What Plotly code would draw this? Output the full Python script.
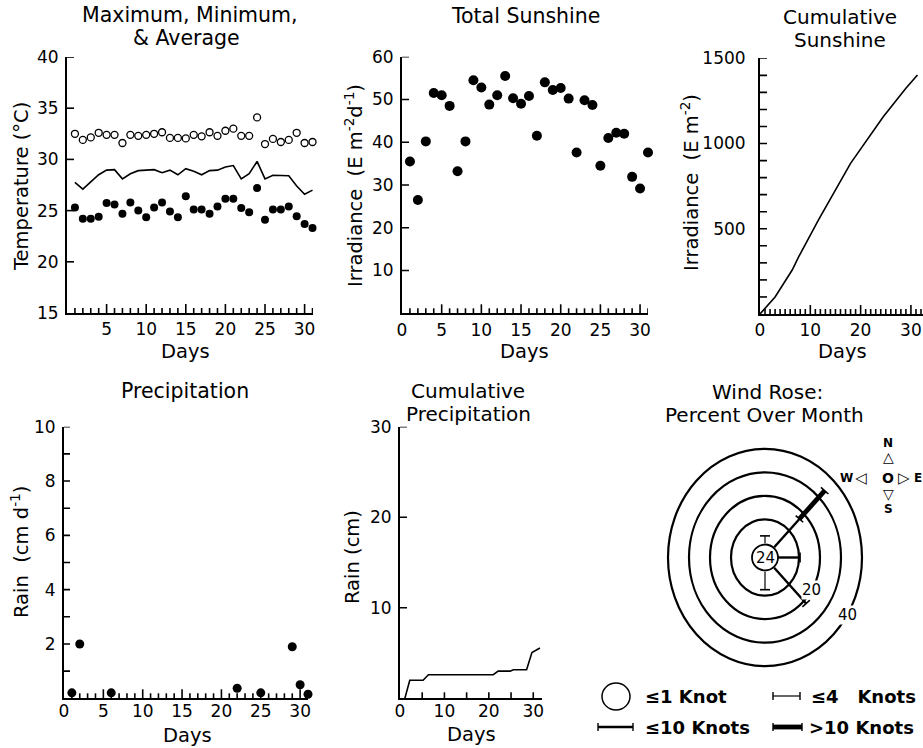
import math
import plotly.graph_objects as go

W, H = 923, 748

# ---------------- data ----------------
days = list(range(1, 32))
temp_max = [32.5, 31.9, 32.15, 32.6, 32.4, 32.4, 31.6, 32.4, 32.3, 32.4, 32.5, 32.65, 32.1, 32.1, 32.05, 32.4,
            32.25, 32.65, 32.3, 32.8, 33.0, 32.3, 32.3, 34.1, 31.5, 32.0, 31.7, 31.9, 32.6, 31.6, 31.7]
temp_avg = [27.75, 27.1, 27.8, 28.5, 28.95, 29.0, 28.1, 28.6, 28.9, 28.95, 29.0, 28.7, 28.95, 28.5, 29.1, 28.85,
            28.5, 28.9, 28.95, 29.25, 29.4, 28.1, 28.6, 29.8, 28.1, 28.45, 28.45, 28.4, 27.4, 26.6, 27.0]
temp_min = [25.3, 24.2, 24.2, 24.4, 25.75, 25.6, 24.7, 25.8, 25.0, 24.35, 25.3, 25.8, 24.9, 24.35, 26.4, 25.1,
            25.1, 24.7, 25.4, 26.15, 26.15, 25.25, 24.85, 27.2, 24.1, 25.1, 25.1, 25.4, 24.45, 23.7, 23.3]
sun_daily = [35.5, 26.5, 40.2, 51.5, 51.0, 48.5, 33.2, 40.2, 54.5, 52.8, 48.8, 51.0, 55.5, 50.3, 49.0, 50.8,
             41.5, 54.0, 52.2, 52.7, 50.2, 37.6, 49.8, 48.7, 34.5, 41.0, 42.2, 42.0, 31.9, 29.2, 37.6]
sun_cum_day = [0, 1, 3, 6.4, 7.7, 11.6, 18, 24.5, 29, 31.3]
sun_cum_val = [0, 35, 100, 258, 336, 551, 884, 1157, 1324, 1402]
rain_day = [1, 2, 6, 22, 25, 29, 30, 31]
rain_cm = [0.2, 2.0, 0.2, 0.37, 0.2, 1.9, 0.5, 0.15]
rain_cum_day = [1.1, 2.2, 5.2, 6.4, 21, 22.1, 24.8, 25.5, 28.5, 29.7, 31.5]
rain_cum_cm = [0, 2.0, 2.0, 2.6, 2.6, 3.0, 3.0, 3.15, 3.15, 5.05, 5.55]

# wind rose (percent of month)
calm_pct = 24
seg_bearing = [0, 45, 45, 90, 135, 180]
seg_class = ["le4", "le10", "gt10", "le10", "le10", "le4"]
seg_pct = [3, 17, 17, 10.5, 21.5, 7.5]
ring_pct = [10, 20, 30, 40]
ring_label_pct = [20, 40]

# tick labels
p1_xticks = [5, 10, 15, 20, 25, 30]
p1_yticks = [15, 20, 25, 30, 35, 40]
p2_xticks = [0, 5, 10, 15, 20, 25, 30]
p2_yticks = [10, 20, 30, 40, 50, 60]
p3_xticks = [0, 10, 20, 30]
p3_yticks = [500, 1000, 1500]
p4_xticks = [0, 5, 10, 15, 20, 25, 30]
p4_yticks = [2, 4, 6, 8, 10]
p5_xticks = [0, 10, 20, 30]
p5_yticks = [10, 20, 30]

# ---------------- helpers ----------------
FONT = "DejaVu Sans"
tickfont = dict(family=FONT, size=17, color="black")
TICK_W = 1.6


def px_x(x):
    return x / W


def px_y(y):
    return 1 - y / H


def xax(x0, x1, rng, tickvals, standoff=0):
    return dict(domain=[px_x(x0), min(1.0, px_x(x1))], range=rng, tickmode="array", tickvals=tickvals,
                ticks="", showline=True, linecolor="black", linewidth=2, showgrid=False, zeroline=False,
                tickfont=tickfont, fixedrange=True, ticklabelstandoff=standoff, automargin=False,
                ticklabeloverflow="allow")


def yax(ytop, ybot, rng, tickvals, standoff=3):
    return dict(domain=[px_y(ybot), px_y(ytop)], range=rng, tickmode="array", tickvals=tickvals,
                ticks="", showline=True, linecolor="black", linewidth=2, showgrid=False, zeroline=False,
                tickfont=tickfont, fixedrange=True, ticklabelstandoff=standoff, automargin=False)


shapes = []


def add_ticks(sid, vals, length, horizontal, span_px):
    for v in vals:
        if horizontal:
            shapes.append(dict(type="line", xref="x" + sid, yref="y" + sid + " domain",
                               x0=v, x1=v, y0=0, y1=length / span_px,
                               line=dict(color="black", width=TICK_W)))
        else:
            shapes.append(dict(type="line", xref="x" + sid + " domain", yref="y" + sid,
                               x0=0, x1=length / span_px, y0=v, y1=v,
                               line=dict(color="black", width=TICK_W)))


fig = go.Figure()

# Panel 1: temperature
fig.add_trace(go.Scatter(x=days, y=temp_max, mode="markers", xaxis="x", yaxis="y", cliponaxis=False,
                         marker=dict(symbol="circle-open", size=7, color="black", line=dict(width=1.3))))
fig.add_trace(go.Scatter(x=days, y=temp_avg, mode="lines", xaxis="x", yaxis="y",
                         line=dict(color="black", width=1.6)))
fig.add_trace(go.Scatter(x=days, y=temp_min, mode="markers", xaxis="x", yaxis="y", cliponaxis=False,
                         marker=dict(size=8, color="black")))
# Panel 2: daily sunshine
fig.add_trace(go.Scatter(x=days, y=sun_daily, mode="markers", xaxis="x2", yaxis="y2", cliponaxis=False,
                         marker=dict(size=10, color="black")))
# Panel 3: cumulative sunshine
fig.add_trace(go.Scatter(x=sun_cum_day, y=sun_cum_val, mode="lines", xaxis="x3", yaxis="y3",
                         line=dict(color="black", width=1.6)))
# Panel 4: precipitation
fig.add_trace(go.Scatter(x=rain_day, y=rain_cm, mode="markers", xaxis="x4", yaxis="y4", cliponaxis=False,
                         marker=dict(size=9, color="black")))
# Panel 5: cumulative precipitation
fig.add_trace(go.Scatter(x=rain_cum_day, y=rain_cum_cm, mode="lines", xaxis="x5", yaxis="y5",
                         line=dict(color="black", width=1.6)))

# panel geometry (px)
P = {
    "":  dict(x=(67, 313), y=(57, 313), xr=[0, 31.06], yr=[15, 40]),
    "2": dict(x=(402, 648), y=(56.7, 313.3), xr=[0, 31], yr=[0, 60]),
    "3": dict(x=(760, 923), y=(58.3, 314), xr=[0, 32.4], yr=[0, 1500]),
    "4": dict(x=(64, 308), y=(426.7, 698.3), xr=[0, 31], yr=[0, 10]),
    "5": dict(x=(400, 541.7), y=(426.7, 698.3), xr=[0, 31.9], yr=[0, 30]),
}


def span(sid, horiz):
    a = P[sid]["x"] if horiz else P[sid]["y"]
    return a[1] - a[0]


every_day = list(range(1, 32))
add_ticks("", [d for d in every_day if d % 5], 5, True, span("", False))
add_ticks("", [5, 10, 15, 20, 25, 30], 9, True, span("", False))
add_ticks("", [20, 25, 30, 35, 40], 7, False, span("", True))
add_ticks("2", [d for d in every_day if d % 5], 5, True, span("2", False))
add_ticks("2", [5, 10, 15, 20, 25, 30], 9, True, span("2", False))
add_ticks("2", [10, 20, 30, 40, 50, 60], 7, False, span("2", True))
add_ticks("3", [d for d in list(range(1, 33)) if d % 10], 5, True, span("3", False))
add_ticks("3", [10, 20, 30], 9, True, span("3", False))
add_ticks("3", list(range(100, 1501, 100)), 7, False, span("3", True))
add_ticks("4", [d for d in every_day if d % 5], 5, True, span("4", False))
add_ticks("4", [5, 10, 15, 20, 25, 30], 9, True, span("4", False))
add_ticks("4", list(range(1, 11)), 6, False, span("4", True))
add_ticks("5", [5, 10, 15, 20, 25, 30], 6, True, span("5", False))
add_ticks("5", [10, 20, 30], 7, False, span("5", True))

# ---------------- wind rose ----------------
S = 1.12      # vertical stretch of the rose
R0 = 13.0     # calm circle radius (px)
K = 2.1       # px per percent
CX, CY = 765, 557.5
rx0, rx1, ry0, ry1 = 600, 923, 440, 680
widths = {"le4": 1.2, "le10": 2.4, "gt10": 4.8}


def rose_pt(bearing, pct):
    b = math.radians(bearing)
    r = R0 + K * pct
    return r * math.sin(b), r * math.cos(b) * S


for p in ring_pct:
    r = R0 + K * p
    shapes.append(dict(type="circle", xref="x6", yref="y6", x0=-r, x1=r, y0=-r * S, y1=r * S,
                       line=dict(color="black", width=2.2)))
shapes.append(dict(type="circle", xref="x6", yref="y6", x0=-R0, x1=R0, y0=-R0, y1=R0,
                   line=dict(color="black", width=1.8), fillcolor="white"))

offset = {}
for b, c, p in zip(seg_bearing, seg_class, seg_pct):
    start = offset.get(b, 0.0)
    end = start + p
    offset[b] = end
    xa, ya = rose_pt(b, start)
    xb, yb = rose_pt(b, end)
    fig.add_trace(go.Scatter(x=[xa, xb], y=[ya, yb], mode="lines", xaxis="x6", yaxis="y6",
                             line=dict(color="black", width=widths[c])))
    L = math.hypot(xb - xa, yb - ya)
    ux, uy = (xb - xa) / L, (yb - ya) / L
    px_, py_ = -uy * 5, ux * 5
    fig.add_trace(go.Scatter(x=[xb - px_, xb + px_], y=[yb - py_, yb + py_], mode="lines",
                             xaxis="x6", yaxis="y6", line=dict(color="black", width=1.6)))

annotations = []


def ann(text, x, y, size=20, angle=0, bold=False, xanchor="center", **kw):
    t = "<b>%s</b>" % text if bold else text
    annotations.append(dict(text=t, x=px_x(x), y=px_y(y), xref="paper", yref="paper", showarrow=False,
                            xanchor=xanchor, yanchor="middle", textangle=angle,
                            font=dict(family=FONT, size=size, color="black"), **kw))


for p in ring_label_pct:
    xl, yl = rose_pt(122, p)
    annotations.append(dict(text=str(p), x=xl, y=yl, xref="x6", yref="y6", showarrow=False,
                            bgcolor="white", borderpad=0,
                            font=dict(family=FONT, size=15, color="black")))
annotations.append(dict(text=str(calm_pct), x=0, y=0, xref="x6", yref="y6", showarrow=False,
                        font=dict(family=FONT, size=15, color="black")))

# titles
ann("Maximum, Minimum,", 190, 15, size=20.5)
ann("&amp; Average", 186, 38, size=20.5)
ann("Total Sunshine", 525, 16, size=20.5)
ann("Cumulative", 840, 17, size=20)
ann("Sunshine", 840, 40, size=20)
ann("Precipitation", 185, 391, size=20.5)
ann("Cumulative", 468, 391, size=20)
ann("Precipitation", 468, 414, size=20)
ann("Wind Rose:", 767, 392, size=20)
ann("Percent Over Month", 764, 415, size=20)

# axis titles
ann("Temperature (°C)", 21, 187, size=19.5, angle=-90)
ann("Days", 185, 351, size=19.5)
ann("Irradiance&nbsp; (E m<sup>-2</sup>d<sup>-1</sup>)", 354, 186, size=19.5, angle=-90)
ann("Days", 524, 351, size=19.5)
ann("Irradiance&nbsp; (E m<sup>-2</sup>)", 690, 183, size=19.5, angle=-90)
ann("Days", 842, 351, size=19.5)
ann("Rain&nbsp; (cm d<sup>-1</sup>)", 20, 552, size=19.5, angle=-90)
ann("Days", 187, 735, size=19.5)
ann("Rain (cm)", 352, 557, size=19.5, angle=-90)
ann("Days", 471, 734, size=19.5)

# compass
ann("N", 888, 443, size=12, bold=True)
ann("△", 888, 457, size=14)
ann("W", 846, 478, size=12, bold=True)
ann("◁", 861, 478, size=15)
ann("O", 888, 478, size=14, bold=True)
ann("▷", 904, 478, size=15)
ann("E", 918, 478, size=12, bold=True)
ann("▽", 888, 494, size=14)
ann("S", 888, 509, size=12, bold=True)

# legend
shapes.append(dict(type="circle", xref="paper", yref="paper", x0=px_x(602), x1=px_x(630),
                   y0=px_y(710), y1=px_y(683), line=dict(color="black", width=1.5)))
ann("≤1 Knot", 643, 696, size=18, bold=True, xanchor="left")
ann("≤4&nbsp;&nbsp; Knots", 809, 696, size=18, bold=True, xanchor="left")
ann("≤10 Knots", 643, 727, size=18, bold=True, xanchor="left")
ann("&gt;10 Knots", 807, 727, size=18, bold=True, xanchor="left")
for (xa, xb, yy, w) in [(773, 800, 696, 1.2), (598, 633, 727, 2.4), (773, 802, 727, 4.8)]:
    shapes.append(dict(type="line", xref="paper", yref="paper", x0=px_x(xa), x1=px_x(xb),
                       y0=px_y(yy), y1=px_y(yy), line=dict(color="black", width=w)))
    for xe in (xa, xb):
        shapes.append(dict(type="line", xref="paper", yref="paper", x0=px_x(xe), x1=px_x(xe),
                           y0=px_y(yy - 4), y1=px_y(yy + 4), line=dict(color="black", width=1.4)))

layout_axes = {}
for sid, tx, ty in [("", p1_xticks, p1_yticks), ("2", p2_xticks, p2_yticks), ("3", p3_xticks, p3_yticks),
                    ("4", p4_xticks, p4_yticks), ("5", p5_xticks, p5_yticks)]:
    g = P[sid]
    xa = xax(g["x"][0], g["x"][1], g["xr"], tx, standoff=0 if sid in ("", "2", "3") else -4)
    ya = yax(g["y"][0], g["y"][1], g["yr"], ty, standoff=9 if sid == "3" else 3)
    xa["anchor"] = "y" + sid
    ya["anchor"] = "x" + sid
    layout_axes["xaxis" + sid] = xa
    layout_axes["yaxis" + sid] = ya

layout_axes["xaxis6"] = dict(domain=[px_x(rx0), px_x(rx1)], range=[rx0 - CX, rx1 - CX], visible=False,
                             fixedrange=True, anchor="y6", automargin=False)
layout_axes["yaxis6"] = dict(domain=[px_y(ry1), px_y(ry0)], range=[CY - ry1, CY - ry0], visible=False,
                             fixedrange=True, anchor="x6", automargin=False)

fig.update_layout(
    width=W, height=H, margin=dict(l=0, r=0, t=0, b=0, pad=0, autoexpand=False),
    paper_bgcolor="white", plot_bgcolor="rgba(0,0,0,0)", showlegend=False,
    font=dict(family=FONT, color="black"),
    shapes=shapes, annotations=annotations, **layout_axes
)

fig.write_html("out.html")
